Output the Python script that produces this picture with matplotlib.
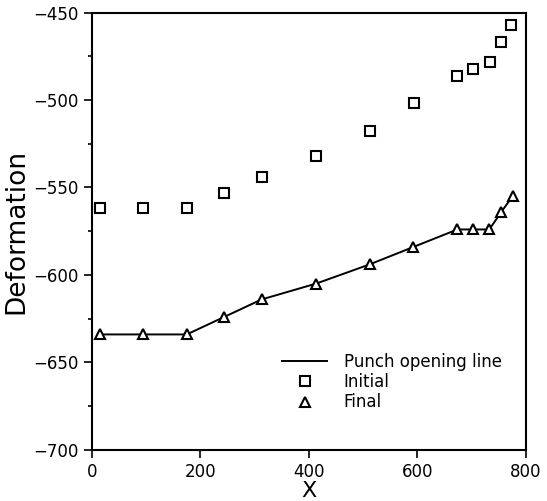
import matplotlib
matplotlib.use("Agg")
import matplotlib.pyplot as plt
from matplotlib.ticker import MultipleLocator

x_initial = [15, 95, 175, 244, 313, 413, 513, 594, 673, 703, 734, 754, 773]
y_initial = [-562, -562, -562, -553, -544, -532, -518, -502, -486, -482, -478, -467, -457]

x_final = [15, 95, 175, 244, 313, 413, 512, 593, 674, 703, 733, 755, 776]
y_final = [-634, -634, -634, -624, -614, -605, -594, -584, -574, -574, -574, -564, -555]

x_ticks = [0, 200, 400, 600, 800]
y_ticks = [-700, -650, -600, -550, -500, -450]

fig = plt.figure(figsize=(5.47, 5.01), dpi=100)
ax = fig.add_axes([0.168, 0.102, 0.793, 0.873])

ax.plot(x_final, y_final, color="black", lw=1.4, label="Punch opening line")
ax.plot(x_initial, y_initial, ls="none", marker="s", ms=7, mfc="white",
        mec="black", mew=1.5, label="Initial")
ax.plot(x_final, y_final, ls="none", marker="^", ms=7, mfc="white",
        mec="black", mew=1.5, label="Final")

ax.set_xlim(0, 800)
ax.set_ylim(-700, -450)
ax.set_xticks(x_ticks)
ax.set_yticks(y_ticks)
ax.yaxis.set_minor_locator(MultipleLocator(25))
ax.tick_params(axis="both", which="major", direction="out", length=6,
               width=1.2, labelsize=12)
ax.tick_params(axis="y", which="minor", direction="out", length=3, width=1.2)
for s in ax.spines.values():
    s.set_linewidth(1.5)

ax.set_xlabel("X", fontsize=16, labelpad=0)
ax.set_ylabel("Deformation", fontsize=19, labelpad=3)

leg = ax.legend(loc="lower right", bbox_to_anchor=(0.945, 0.088),
                frameon=False, fontsize=12, handlelength=2.7,
                handletextpad=1.0, labelspacing=0.14, borderpad=0,
                borderaxespad=0)

fig.savefig("out.png", dpi=100)
